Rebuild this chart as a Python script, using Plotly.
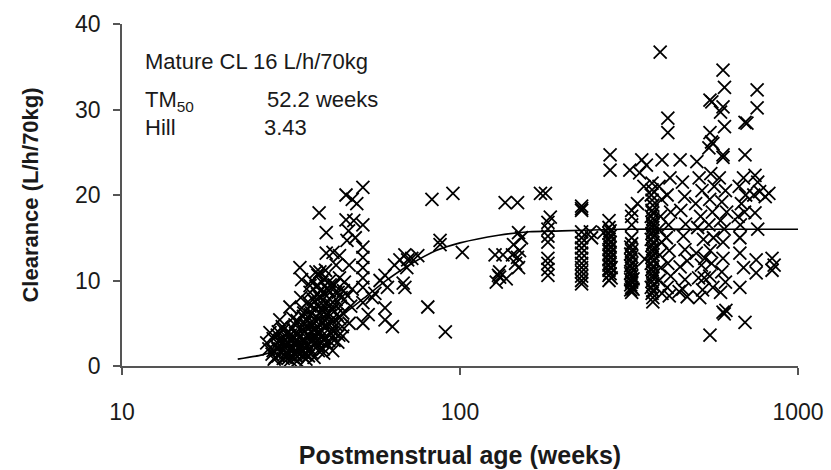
import plotly.graph_objects as go

# ---------------- data ----------------
# Neonates (postmenstrual age in weeks, clearance L/h/70kg)
neo_pma = [
    26.8, 27.4, 28.0, 28.5, 29.0, 29.3, 29.5, 30.0, 30.0, 30.5,
    31.0, 31.4, 31.5, 32.0, 32.0, 32.5, 33.0, 33.0, 33.6, 34.0,
    34.0, 34.5, 34.5, 35.0, 35.0, 35.5, 36.0, 36.0, 36.0, 36.5,
    37.0, 37.0, 37.0, 37.5, 38.0, 38.0, 38.3, 38.5, 39.0, 39.0,
    39.0, 39.5, 40.0, 40.0, 40.2, 40.2, 40.5, 41.0, 41.0, 41.5,
    42.0, 42.0, 42.1, 42.5, 43.0, 43.0, 43.5, 44.0, 44.0, 45.0,
    45.0, 46.0, 46.0, 46.3, 46.5, 47.0, 47.0, 48.0, 48.0, 29.8,
    31.0, 33.0, 35.0, 36.0, 38.0, 40.0, 41.0, 37.5, 43.0, 44.0,
    28.2, 29.6, 30.8, 31.8, 32.6, 33.4, 34.2, 35.2, 36.2, 37.2,
    38.2, 39.2, 40.4, 41.4, 42.4, 27.8, 30.2, 32.2, 34.8, 36.8,
    38.8, 39.8, 41.8, 43.8, 45.5, 47.5, 49.0, 28.8, 30.4, 31.2,
    32.8, 34.4, 36.4, 37.8, 39.4, 40.8, 42.8, 44.5, 46.8, 48.5,
    28.4, 28.9, 29.2, 29.7, 30.3, 30.6, 31.1, 31.3, 31.7, 31.9,
    32.3, 32.4, 32.9, 33.2, 33.5, 33.8, 34.1, 34.3, 34.7, 35.1,
    35.3, 35.6, 35.8, 36.1, 36.3, 36.6, 36.9, 37.1, 37.3, 37.6,
    37.9, 38.1, 38.4, 38.6, 38.9, 39.1, 39.3, 39.6, 39.8, 40.1,
    40.3, 40.6, 40.9, 41.1, 41.3, 41.6, 41.9, 42.2, 42.6, 43.2,
    43.6, 44.2, 44.8, 45.2, 33.0, 31.5, 30.0, 34.0, 35.0, 36.0,
    29.0, 28.0, 27.2, 32.0, 33.8, 36.5, 38.5, 39.5, 37.0, 38.0,
]
neo_cl = [
    2.7, 3.9, 1.8, 2.4, 1.2, 5.4, 3.1, 2.0, 4.2, 1.5,
    2.8, 6.9, 3.6, 1.0, 2.2, 4.8, 3.0, 1.6, 11.5, 10.1,
    2.5, 4.0, 6.2, 1.3, 3.4, 7.5, 2.0, 5.0, 8.6, 3.0,
    1.0, 4.3, 6.8, 9.3, 2.4, 5.6, 17.9, 8.0, 3.5, 6.5,
    9.8, 1.5, 4.5, 7.4, 15.6, 13.2, 2.6, 5.8, 8.8, 3.8,
    6.6, 1.8, 13.3, 9.5, 4.8, 7.8, 2.8, 5.6, 10.3, 6.2,
    3.5, 20.0, 17.1, 14.7, 8.2, 5.0, 11.8, 19.5, 9.0, 4.6,
    0.9, 5.3, 0.8, 9.4, 10.6, 11.2, 9.9, 11.0, 11.8, 12.9,
    0.8, 2.6, 3.3, 1.9, 3.8, 2.3, 1.2, 2.8, 4.0, 3.2,
    7.0, 5.2, 9.0, 7.2, 3.0, 1.4, 3.0, 3.2, 5.0, 7.8,
    4.2, 8.4, 4.2, 3.6, 9.8, 7.0, 15.0, 3.6, 1.0, 4.0,
    2.6, 5.8, 6.2, 3.8, 2.0, 6.2, 8.6, 8.0, 15.8, 17.0,
    1.0, 2.0, 3.0, 1.6, 2.5, 3.8, 1.3, 2.0, 3.0, 4.4,
    1.5, 2.8, 1.1, 3.8, 2.0, 4.5, 1.6, 3.0, 2.2, 4.6,
    2.4, 1.2, 3.6, 6.0, 1.6, 4.8, 2.6, 7.6, 3.6, 5.2,
    8.4, 1.8, 4.0, 6.2, 9.0, 2.8, 5.0, 7.0, 3.2, 6.0,
    8.2, 5.0, 3.0, 7.0, 9.5, 5.0, 6.6, 4.0, 7.2, 6.0,
    8.6, 7.0, 4.6, 8.8, 0.6, 0.7, 0.9, 6.8, 5.4, 7.0,
    4.0, 3.2, 2.0, 5.6, 8.0, 10.0, 11.0, 10.2, 5.0, 3.0,
]

# Infants
inf_pma = [
    51.6, 51.6, 51.6, 51.6, 51.6, 51.6, 51.6, 51.6, 51.6, 49.5,
    60.0, 61.0, 60.0, 60.0, 63.1, 66.4, 68.7, 70.0, 69.6, 67.9,
    68.7, 80.3, 82.6, 95.3, 87.3, 87.3, 101.6, 90.5, 56.0, 58.0,
    64.0, 72.0, 75.0, 53.5, 55.0,
]
inf_cl = [
    20.9, 16.5, 13.9, 12.7, 11.5, 10.3, 9.2, 7.4, 5.0, 19.0,
    10.6, 9.2, 6.8, 5.4, 4.6, 12.4, 13.0, 12.4, 11.5, 9.7,
    9.2, 6.9, 19.5, 20.2, 14.7, 14.2, 13.3, 4.0, 8.5, 10.0,
    11.8, 12.6, 12.9, 6.0, 8.0,
]

# Children and adults
child_pma = [
    127, 131, 131, 128, 134, 130, 136, 137,
    148, 149, 144, 148, 149, 150, 146, 152, 143,
    173, 179, 182, 182, 182, 182, 182, 182, 182, 182, 185,
    229, 229, 229, 229, 229, 229, 229, 229, 229, 229, 229, 229, 229, 229, 229, 243, 245,
    278, 278, 276, 276, 276, 276, 276, 276, 276, 276, 276, 276, 276, 276, 280, 280, 266,
    278, 278, 278, 278, 278, 278, 278, 278, 278,
    318, 322, 322, 322, 322, 322, 322, 322, 322, 322, 322, 322, 322, 322, 322, 325, 325,
    320, 320, 320, 320, 320, 320, 320, 320,
    370, 370, 368, 370, 372, 370, 368, 370, 372, 370, 368, 370, 372, 370, 368, 370, 372, 370, 368, 370, 372,
    372, 372, 372, 372, 372, 372, 372, 372, 372, 372, 372, 372, 372, 372, 372,
    345, 340, 350, 335, 356, 352,
    391, 396, 388, 395, 392, 388, 395, 390, 393, 388, 396,
    412, 412, 418, 410, 420, 414, 408, 416, 412, 420, 410, 416,
    448, 455, 462, 450, 465, 458, 463, 470, 448, 463, 456, 470, 445,
    502, 510, 520, 498, 515, 505, 525, 500, 518, 508, 522, 512, 530, 528,
    549, 556, 549, 555, 560, 545, 552, 565, 548, 558, 545, 562, 550, 555, 548, 560, 549,
    600, 606, 600, 590, 606, 600, 600, 585, 610, 595, 615, 590, 605, 600, 600, 595, 610, 590, 600, 605, 612,
    697, 706, 697, 690, 670, 700, 680, 695, 665, 675, 673, 673, 690, 673, 697,
    757, 757, 746, 760, 770, 740, 746, 760, 752, 752,
    838, 838, 820, 800, 850,
]
child_cl = [
    13.0, 10.4, 11.0, 9.8, 13.0, 10.6, 19.1, 10.2,
    19.1, 15.6, 14.2, 12.7, 11.5, 13.5, 12.0, 15.0, 13.0,
    20.2, 20.2, 16.8, 16.0, 15.2, 14.5, 12.6, 12.0, 11.3, 10.6, 17.4,
    18.7, 18.4, 18.2, 15.7, 15.0, 14.4, 13.8, 13.2, 12.6, 12.0, 11.5, 11.0, 10.5, 10.0, 9.6, 15.7, 15.0,
    24.7, 22.9, 17.0, 16.2, 15.5, 14.8, 14.2, 13.6, 13.0, 12.4, 11.8, 11.2, 10.6, 10.0, 10.3, 11.5, 15.6,
    10.8, 11.5, 12.1, 12.7, 13.3, 13.9, 14.5, 15.2, 15.8,
    22.9, 18.2, 17.5, 16.5, 15.0, 14.3, 13.5, 12.8, 12.0, 11.4, 11.0, 10.5, 9.8, 9.2, 8.6, 9.0, 10.2,
    8.9, 9.5, 10.1, 10.8, 11.7, 12.4, 13.1, 13.9,
    21.4, 20.6, 20.0, 19.4, 18.8, 18.2, 17.5, 16.8, 16.2, 15.5, 14.8, 14.1, 13.4, 12.7, 12.0, 11.3, 10.6, 9.9, 9.2, 8.5, 7.5,
    8.0, 8.8, 9.5, 10.3, 11.0, 11.6, 12.3, 13.0, 13.7, 14.4, 15.1, 15.8, 16.5, 17.2, 17.9,
    24.1, 22.6, 21.0, 19.0, 23.5, 12.5,
    36.7, 24.1, 21.0, 19.5, 17.5, 16.0, 14.5, 13.0, 11.5, 10.0, 8.5,
    29.0, 27.3, 22.0, 20.0, 18.0, 16.5, 15.0, 13.5, 12.0, 10.5, 9.2, 8.2,
    24.1, 21.5, 19.8, 18.2, 16.6, 15.2, 13.6, 12.3, 11.6, 10.1, 9.0, 8.1, 8.7,
    23.9, 22.0, 20.5, 19.0, 17.5, 16.2, 14.8, 13.2, 11.8, 10.3, 8.9, 8.0, 12.6, 10.3,
    31.1, 30.9, 27.3, 26.2, 26.0, 25.5, 22.5, 21.0, 19.5, 18.0, 16.5, 15.0, 13.5, 12.0, 10.5, 9.2, 3.6,
    34.6, 32.6, 30.3, 29.7, 28.0, 24.7, 24.4, 22.0, 20.5, 19.2, 18.0, 17.0, 16.0, 14.5, 12.6, 11.0, 9.8, 8.6, 6.3, 6.1, 6.5,
    28.5, 28.4, 24.7, 22.0, 21.0, 20.0, 19.0, 18.0, 17.5, 16.5, 15.0, 13.2, 11.5, 9.2, 5.1,
    32.3, 30.2, 22.3, 21.5, 20.4, 20.0, 17.9, 16.0, 12.4, 10.9,
    12.6, 11.2, 20.2, 19.8, 11.8,
]

# Fitted maturation curve
curve_pma = [22, 26, 30, 35, 40, 45, 52.2, 60, 70, 85, 100, 130, 160, 200, 300, 500, 1000]
curve_cl = [0.8, 1.3, 2.1, 3.2, 4.6, 6.0, 8.0, 9.9, 11.7, 13.5, 14.4, 15.3, 15.7, 15.8, 16.0, 16.0, 16.0]

x_ticks = [10, 100, 1000]
y_ticks = [0, 10, 20, 30, 40]

# ---------------- figure ----------------
FONT = "Liberation Sans, Arial, sans-serif"
AXIS_COLOR = "#555555"
TEXT_COLOR = "#1a1a1a"

fig = go.Figure()
fig.add_trace(go.Scatter(
    x=neo_pma + inf_pma + child_pma,
    y=neo_cl + inf_cl + child_cl,
    mode="markers",
    marker=dict(symbol="x-thin-open", size=13, color="black",
                line=dict(color="black", width=1.8)),
    showlegend=False, hoverinfo="x+y",
))
fig.add_trace(go.Scatter(
    x=curve_pma, y=curve_cl, mode="lines",
    line=dict(color="black", width=1.6, shape="spline", smoothing=0.6),
    showlegend=False,
))

fig.update_layout(
    width=831, height=470,
    margin=dict(l=122, r=33, t=24, b=104, autoexpand=False),
    paper_bgcolor="white", plot_bgcolor="white",
    font=dict(family=FONT, color=TEXT_COLOR),
    xaxis=dict(
        type="log", range=[1, 3], tickvals=x_ticks, ticktext=[str(v) for v in x_ticks],
        automargin=False,
        showgrid=False, zeroline=False, showline=True, linecolor=AXIS_COLOR, linewidth=1.5,
        ticks="outside", ticklen=7, tickwidth=1.5, tickcolor=AXIS_COLOR,
        tickfont=dict(size=23, family=FONT, color=TEXT_COLOR), ticklabelstandoff=18,
        title=dict(text="<b>Postmenstrual age (weeks)</b>", font=dict(size=25, family=FONT, color=TEXT_COLOR),
                   standoff=22),
    ),
    yaxis=dict(
        range=[0, 40], tickvals=y_ticks, automargin=False,
        showgrid=False, zeroline=False, showline=True, linecolor=AXIS_COLOR, linewidth=1.5,
        ticks="outside", ticklen=7, tickwidth=1.5, tickcolor=AXIS_COLOR,
        tickfont=dict(size=23, family=FONT, color=TEXT_COLOR), ticklabelstandoff=8,
        title=dict(text="<b>Clearance (L/h/70kg)</b>", font=dict(size=22, family=FONT, color=TEXT_COLOR),
                   standoff=30),
    ),
)

ann_font = dict(size=22, family=FONT, color=TEXT_COLOR)
labels = [
    ("Mature CL 16 L/h/70kg", 0.031, 0.889),
    ("TM<sub>50</sub>", 0.031, 0.775),
    ("52.2 weeks", 0.212, 0.78),
    ("Hill", 0.031, 0.696),
    ("3.43", 0.207, 0.696),
]
for text, xp, yp in labels:
    fig.add_annotation(text=text, x=xp, y=yp, xref="paper", yref="paper",
                       xanchor="left", yanchor="middle", showarrow=False, font=ann_font)

# remove the browser's default 8px body margin so the figure fills the window exactly
fig.write_html("out.html", config={"displayModeBar": False},
               post_script="document.body.style.margin='0';document.body.style.overflow='hidden';")
